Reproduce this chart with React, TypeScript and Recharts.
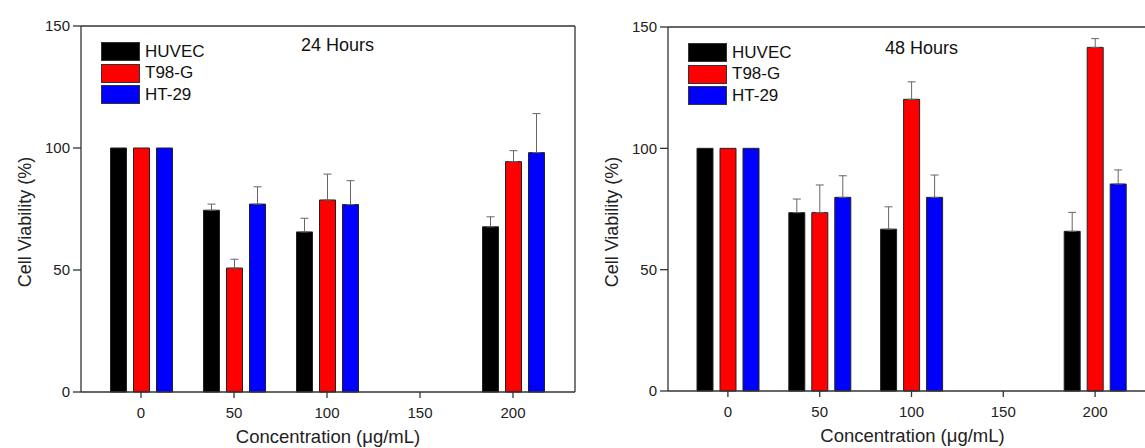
import React from 'react';
import { BarChart, Bar, XAxis, YAxis, ErrorBar } from 'recharts';

const concentrations = ['0', '50', '100', '150', '200'];
const cellLines = ['HUVEC', 'T98-G', 'HT-29'];
const barColors = ['#000000', '#ff0000', '#0000ff'];
const yTicks = [0, 50, 100, 150];

// 24 hours (150 has no measurement)
const huvec24 = [100, 74.5, 65.6, null, 67.7];
const huvec24Err = [null, 2.5, 5.6, null, 4.1];
const t98g24 = [100, 50.8, 78.7, null, 94.4];
const t98g24Err = [null, 3.6, 10.6, null, 4.5];
const ht2924 = [100, 77.0, 76.8, null, 98.1];
const ht2924Err = [null, 7.1, 9.8, null, 16.0];

// 48 hours
const huvec48 = [100, 73.5, 66.7, null, 65.8];
const huvec48Err = [null, 5.6, 9.2, null, 7.8];
const t98g48 = [100, 73.5, 120.2, null, 141.6];
const t98g48Err = [null, 11.4, 7.2, null, 3.6];
const ht2948 = [100, 79.8, 79.8, null, 85.3];
const ht2948Err = [null, 8.9, 9.2, null, 5.8];

const FONT = '"Liberation Sans", Arial, sans-serif';
const AXIS = '#333';

type Num = number | null;

function buildRows(values: Num[][], errors: Num[][]) {
    return concentrations.map((c, i) => {
        const row: any = { conc: c };
        values.forEach((v, k) => {
            row[`s${k}`] = v[i];
            // one-sided (upper) error bars
            row[`e${k}`] = errors[k][i] == null ? null : [0, errors[k][i]];
        });
        return row;
    });
}

const rows24 = buildRows([huvec24, t98g24, ht2924], [huvec24Err, t98g24Err, ht2924Err]);
const rows48 = buildRows([huvec48, t98g48, ht2948], [huvec48Err, t98g48Err, ht2948Err]);

function LegendBox({ left, top }: { left: number; top: number }) {
    return (
        <div style={{ position: 'absolute', left, top, fontFamily: FONT, fontSize: 17, color: '#111' }}>
            {cellLines.map((name, k) => (
                <div key={name} style={{ display: 'flex', alignItems: 'center', height: 21.5 }}>
                    <div style={{ width: 37, height: 17, background: barColors[k], border: '1px solid #333', marginRight: 5 }} />
                    <span style={{ lineHeight: '18px' }}>{name}</span>
                </div>
            ))}
        </div>
    );
}

interface PanelProps {
    rows: any[];
    title: string;
    left: number;
    width: number;
    top: number;
    xAxisHeight: number;
    padding: { left: number; right: number };
    titleX: number;
    titleY: number;
    legendTop: number;
}

function Panel({ rows, title, left, width, top, xAxisHeight, padding, titleX, titleY, legendTop }: PanelProps) {
    return (
        <div style={{ position: 'absolute', left, top: 0, width, height: 448 }}>
            <BarChart
                width={width}
                height={448}
                data={rows}
                margin={{ top: top - 1, right: 14, left: 0, bottom: 0 }}
                barSize={16}
                barGap={7}
            >
                <XAxis
                    dataKey="conc"
                    height={xAxisHeight}
                    padding={padding}
                    stroke={AXIS}
                    strokeWidth={1.3}
                    tickSize={6}
                    tickMargin={9}
                    tick={{ fill: '#222', fontSize: 15, fontFamily: FONT }}
                    label={{
                        content: ({ viewBox }: any) => (
                            <text
                                x={viewBox.x + viewBox.width / 2}
                                y={viewBox.y + 51}
                                textAnchor="middle"
                                fontSize={18.5}
                                fontFamily={FONT}
                                fill="#222"
                            >
                                Concentration (μg/mL)
                            </text>
                        ),
                    }}
                />
                <XAxis xAxisId="top" dataKey="conc" orientation="top" height={1} tick={false} tickLine={false} stroke={AXIS} strokeWidth={1.3} />
                <YAxis
                    width={81}
                    domain={[0, 150]}
                    ticks={yTicks}
                    stroke={AXIS}
                    strokeWidth={1.3}
                    tickSize={8}
                    tickMargin={3}
                    tick={{ fill: '#222', fontSize: 15, fontFamily: FONT }}
                    label={{
                        content: ({ viewBox }: any) => {
                            const cx = viewBox.x + 25;
                            const cy = viewBox.y + viewBox.height / 2 + 13;
                            return (
                                <text
                                    x={cx}
                                    y={cy}
                                    transform={`rotate(-90 ${cx} ${cy})`}
                                    textAnchor="middle"
                                    dominantBaseline="central"
                                    fontSize={18}
                                    fontFamily={FONT}
                                    fill="#222"
                                >
                                    Cell Viability (%)
                                </text>
                            );
                        },
                    }}
                />
                <YAxis yAxisId="r" orientation="right" width={1} domain={[0, 150]} tick={false} tickLine={false} stroke={AXIS} strokeWidth={1.3} />
                {cellLines.map((name, k) => (
                    <Bar
                        key={name}
                        dataKey={`s${k}`}
                        name={name}
                        fill={barColors[k]}
                        stroke="#222"
                        strokeWidth={1}
                        isAnimationActive={false}
                    >
                        <ErrorBar dataKey={`e${k}`} width={4} stroke="#666" strokeWidth={1} direction="y" />
                    </Bar>
                ))}
            </BarChart>
            <LegendBox left={101} top={legendTop} />
            <div
                style={{
                    position: 'absolute',
                    left: titleX,
                    top: titleY,
                    fontFamily: FONT,
                    fontSize: 18,
                    lineHeight: '20px',
                    color: '#111',
                }}
            >
                {title}
            </div>
        </div>
    );
}

export default function App() {
    return (
        <div
            style={{
                position: 'fixed',
                left: 0,
                top: 0,
                width: 1145,
                height: 448,
                overflow: 'hidden',
                background: '#fff',
            }}
        >
            <Panel
                rows={rows24}
                title="24 Hours"
                left={0}
                width={590}
                top={26}
                xAxisHeight={56}
                padding={{ left: 13.5, right: 15.5 }}
                titleX={301}
                titleY={35}
                legendTop={41}
            />
            <Panel
                rows={rows48}
                title="48 Hours"
                left={587}
                width={585}
                top={27}
                xAxisHeight={57}
                padding={{ left: 14, right: 16 }}
                titleX={298}
                titleY={38}
                legendTop={42}
            />
        </div>
    );
}
